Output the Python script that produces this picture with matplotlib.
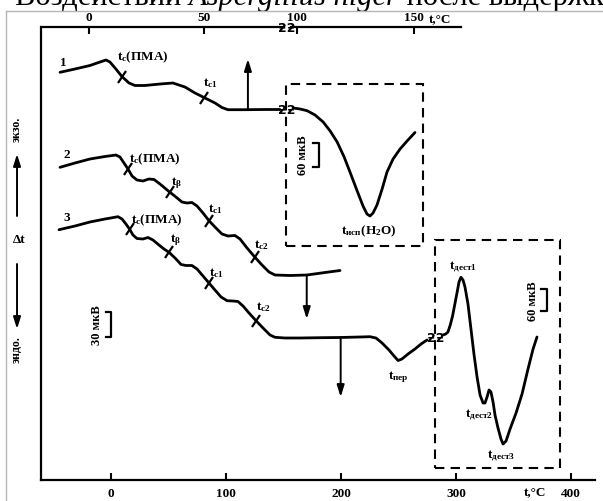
import matplotlib
matplotlib.use("Agg")
import matplotlib.pyplot as plt
import numpy as np
from matplotlib.patches import Rectangle
from matplotlib.lines import Line2D
from matplotlib.markers import MarkerStyle
from matplotlib.transforms import Affine2D

plt.rcParams.update({
    "font.family": ["Liberation Serif", "DejaVu Serif"],
    "font.weight": "bold",
    "mathtext.fontset": "custom",
    "mathtext.rm": "Liberation Serif:bold",
    "mathtext.it": "Liberation Serif:italic:bold",
    "mathtext.bf": "Liberation Serif:bold",
})

# ---- curve 1 (upper temperature scale) -------------------------------
c1_t = [-12.6, -6.1, 0.4, 4.8, 7.4, 9.1, 11.7, 14.3, 17.4, 20.0, 24.3, 30.9,
        36.5, 41.7, 46.1, 50.0, 54.8, 57.8, 60.4, 67.8, 76.5, 83.0]
c1_s = [407.7, 411, 414.5, 418, 420, 418, 411, 403.5, 397, 394.5, 394.5, 396,
        397, 393, 387, 382.5, 377, 372.5, 370.3, 370.3, 370.5, 370.5]
c1_marks = [14.3, 50.0]

# water desorption peak (upper scale, after the break)
c1b_t = [98.3, 101.3, 104.3, 107.7, 111.2, 114.2, 117.2, 120.2, 122.7, 125.8,
         128.3, 130.0, 131.3, 132.6, 134.3, 136.5, 138.6, 141.2, 144.2, 147.6, 150.6]
c1b_s = [372, 371, 369.3, 365, 358, 349, 338, 323, 308, 289,
         274, 266, 264, 267, 275, 291, 308, 321, 331, 340, 347.5]

# ---- curve 2 (lower temperature scale) -------------------------------
c2_t = [-44.3, -31.3, -18.3, -5.2, 4.3, 7.8, 11.3, 14.8, 18.3, 22.6, 27.8, 33.0,
        37.4, 42.6, 47.8, 51.3, 56.5, 61.7, 66.1, 70.4, 74.8, 80.0, 85.2, 90.4,
        96.5, 101.7, 107.8, 112.2, 118.3, 125.2, 131.3, 137.4, 142.6, 155.7,
        170.4, 186.1, 199.1]
c2_s = [312.7, 317, 321, 323.5, 325, 323, 317, 311, 304, 300, 299, 301,
        300.5, 296, 291, 287.7, 283, 278, 277, 277.5, 274, 267, 259.3, 253,
        246, 244, 244.5, 241, 232, 222.7, 215, 208, 205, 204.5,
        205, 207.5, 209.5]
c2_marks = [14.8, 51.3, 85.2, 125.2]

# ---- curve 3 ---------------------------------------------------------
c3_t = [-45.2, -31.3, -18.3, -5.2, 6.1, 9.6, 13.0, 16.1, 19.1, 22.6, 27.8, 32.2,
        36.5, 41.7, 46.1, 50.4, 55.7, 60.9, 65.2, 70.4, 74.8, 80.0, 85.2, 90.4,
        95.7, 100.9, 106.1, 110.4, 114.8, 120.0, 126.1, 132.2, 138.3, 142.6,
        151.3, 164.3, 181.7, 199.1, 216.5, 225.2, 230.4, 235.7, 241.7, 246.1,
        249.6, 253.0, 258.3, 264.3, 269.6, 274.8]
c3_s = [250.3, 254, 258, 261, 263.3, 261, 256, 251, 245, 241.5, 241, 242.5,
        240, 235, 231, 227.7, 222, 215.5, 214.5, 214.5, 211, 204, 197, 190,
        183, 179.3, 179, 178.5, 174, 167, 159.3, 152, 145, 142.7,
        142, 142, 142.3, 142.5, 143, 143.3, 142, 137, 130, 124,
        119.5, 121, 126, 131, 136, 140]
c3_marks = [16.1, 50.4, 85.2, 126.1]

# destruction region of curve 3 (after the break)
c3b_t = [288.7, 291.0, 293.0, 295.0, 297.0, 299.0, 301.0, 302.6, 304.3, 306.1,
         307.8, 310.4, 313.0, 315.7, 318.3, 320.9, 323.5, 325.2, 327.0, 328.7,
         330.4, 332.2, 333.9, 336.5, 339.1, 340.9, 343.5, 347.0, 352.2, 357.4,
         362.6, 367.0, 370.4]
c3b_s = [145, 146, 148, 155, 164, 176, 188, 198, 202.7, 200,
         193, 176, 151, 125, 103, 85, 77, 77, 83, 90,
         88, 78, 65, 52, 41, 36, 39, 51, 67, 86,
         111, 131, 143]

bottom_ticks = [0, 100, 200, 300, 400]
top_ticks_a = [0, 50]
top_ticks_b = [100, 150]

# ---- figure ------------------------------------------------------------
W, H = 603, 502
fig = plt.figure(figsize=(W / 100, H / 100), dpi=100)
fig.patch.set_facecolor("white")

YLIM = (-21, 481)
ax = fig.add_axes([0, 0, 1, 1])
ax.set_xlim(-96.5, 427.8)
ax.set_ylim(*YLIM)
ax.set_facecolor("white")

ax_a = fig.add_axes([0, 0, 1, 1])
ax_a.set_xlim(-38.7, 223.5)
ax_a.set_ylim(*YLIM)
ax_b = fig.add_axes([0, 0, 1, 1])
ax_b.set_xlim(-27.5, 231.3)
ax_b.set_ylim(*YLIM)
for a in (ax_a, ax_b):
    a.patch.set_alpha(0)

# main frame: bottom and left axis lines
for s in ("top", "right"):
    ax.spines[s].set_visible(False)
ax.spines["bottom"].set_position(("data", 0))
ax.spines["bottom"].set_bounds(-60.9, 420.9)
ax.spines["left"].set_position(("data", -60.9))
ax.spines["left"].set_bounds(0, 453)
for s in ("bottom", "left"):
    ax.spines[s].set_linewidth(1.6)
ax.set_xticks(bottom_ticks)
ax.set_yticks([])
ax.tick_params(axis="x", direction="in", length=5, width=1.5, pad=5,
               labelsize=9.5)

# upper temperature scale, split by a break
for a, bnd, ticks in ((ax_a, (-20.6, 84.8), top_ticks_a),
                      (ax_b, (97.4, 170.4), top_ticks_b)):
    for s in ("bottom", "left", "right"):
        a.spines[s].set_visible(False)
    a.spines["top"].set_position(("data", 453))
    a.spines["top"].set_bounds(*bnd)
    a.spines["top"].set_linewidth(1.6)
    a.set_xticks(ticks)
    a.set_yticks([])
    a.tick_params(axis="x", top=True, labeltop=True, bottom=False,
                  labelbottom=False, direction="in", length=5, width=1.5,
                  pad=3, labelsize=9.5)

ax_b.text(161.4, 462, "t,°C", ha="center", va="center", fontsize=9.5)
ax.text(368.7, -11, "t,°C", ha="center", va="center", fontsize=9.5)

LW = 2.0
kw = dict(color="black", lw=LW, solid_capstyle="round", solid_joinstyle="round")
ax_a.plot(c1_t, c1_s, **kw)
ax_b.plot(c1b_t, c1b_s, **kw)
ax.plot(c2_t, c2_s, **kw)
ax.plot(c3_t, c3_s, **kw)
ax.plot(c3b_t, c3b_s, **kw)

tick_marker = MarkerStyle("|", transform=Affine2D().rotate_deg(-35))
for a, t, s, m in ((ax_a, c1_t, c1_s, c1_marks), (ax, c2_t, c2_s, c2_marks),
                   (ax, c3_t, c3_s, c3_marks)):
    a.plot(m, np.interp(m, t, s), ls="none", marker=tick_marker, ms=11,
           mew=1.6, color="black")

# break symbols
sq = dict(ha="center", va="center", fontsize=9, family="DejaVu Sans",
          fontweight="bold")
ax_b.text(95.7, 371, "ƻƻ", **sq)
ax_b.text(95.7, 453, "ƻƻ", **sq)
ax.text(282.2, 143, "ƻƻ", **sq)

# dashed boxes with expanded-scale parts
dash = dict(fill=False, lw=1.5, ls=(0, (4.5, 3)), ec="black")
ax_b.add_patch(Rectangle((95.3, 233.7), 153.9 - 95.3, 396 - 233.7, **dash))
ax.add_patch(Rectangle((281.7, 11.7), 390.4 - 281.7, 240 - 11.7, **dash))

# arrows showing the shift of the baselines
arr = dict(arrowstyle="-|>,head_length=0.7,head_width=0.22", color="black",
           lw=1.4, shrinkA=0, shrinkB=0)
ax_a.annotate("", xy=(69.1, 421), xytext=(69.1, 370.3), arrowprops=arr)
ax.annotate("", xy=(170.2, 161), xytext=(170.2, 205), arrowprops=arr)
ax.annotate("", xy=(199.7, 83), xytext=(199.7, 142.5), arrowprops=arr)

# scale bars
def bar(a, x, x0, y0, y1):
    a.plot([x0, x, x, x0], [y1, y1, y0, y0], color="black", lw=1.6)

bar(ax, 0, -4.3, 142.7, 168.3)
ax.text(-12.4, 156, "30 мкВ", rotation=90, ha="center", va="center", fontsize=9)
bar(ax_b, 109.6, 106.9, 312.7, 337)
ax_b.text(102.7, 326, "60 мкВ", rotation=90, ha="center", va="center", fontsize=9)
bar(ax, 378.9, 374.0, 169.3, 191)
ax.text(367.2, 180, "60 мкВ", rotation=90, ha="center", va="center", fontsize=9)

# curve labels
lab = dict(ha="center", va="center", fontsize=9.5)
ax_a.text(-11.3, 418, "1", **lab)
ax_a.text(23.5, 424, r"$\mathrm{t_c}$(ПМА)", **lab)
ax_a.text(52.9, 398.3, r"$\mathrm{t_{c1}}$", **lab)
ax_b.text(130.6, 249.3, r"$\mathrm{t_{исп}(H_2O)}$", **lab)

ax.text(-38.6, 326, "2", **lab)
ax.text(38.3, 322, r"$\mathrm{t_c}$(ПМА)", **lab)
ax.text(57.1, 298.3, r"$\mathrm{t_β}$", **lab)
ax.text(90.4, 271.7, r"$\mathrm{t_{c1}}$", **lab)
ax.text(131.0, 236, r"$\mathrm{t_{c2}}$", **lab)

ax.text(-38.6, 262.7, "3", **lab)
ax.text(39.7, 261, r"$\mathrm{t_c}$(ПМА)", **lab)
ax.text(56.5, 241, r"$\mathrm{t_β}$", **lab)
ax.text(91.9, 207.7, r"$\mathrm{t_{c1}}$", **lab)
ax.text(132.4, 173.7, r"$\mathrm{t_{c2}}$", **lab)
ax.text(249.8, 104.3, r"$\mathrm{t_{пер}}$", **lab)
ax.text(306.3, 213.7, r"$\mathrm{t_{дест1}}$", **lab)
ax.text(320.0, 66, r"$\mathrm{t_{дест2}}$", **lab)
ax.text(339.7, 24.3, r"$\mathrm{t_{дест3}}$", **lab)

# ordinate direction legend
ax.text(-81.7, 352, "экзо.", rotation=90, ha="center", va="center", fontsize=8.5)
ax.annotate("", xy=(-81.7, 326), xytext=(-81.7, 264), arrowprops=arr)
ax.text(-80.0, 241, "Δt", ha="center", va="center", fontsize=9.5)
ax.annotate("", xy=(-81.7, 151), xytext=(-81.7, 216), arrowprops=arr)
ax.text(-81.7, 131, "эндо.", rotation=90, ha="center", va="center", fontsize=8.5)

# page frame and running header above it
fig.add_artist(Line2D([6 / W, 6 / W], [0, 1 - 12 / H], color="#b5b5b5", lw=1))
fig.add_artist(Line2D([6 / W, 1], [1 - 12 / H, 1 - 12 / H], color="#b5b5b5", lw=1))
hdr = dict(fontsize=22, fontweight="normal", va="baseline")
t1 = fig.text(15 / W, 1 - 5 / H, "Воздействии ", **hdr)
t2 = plt.annotate("Aspergillus niger", xy=(1, 0), xycoords=t1, va="bottom",
                  fontsize=22, fontweight="normal", fontstyle="italic",
                  annotation_clip=False)
t3 = plt.annotate(" после выдержки", xy=(1, 0), xycoords=t2, va="bottom",
                  fontsize=22, fontweight="normal", annotation_clip=False)

fig.savefig("out.png", dpi=100)
